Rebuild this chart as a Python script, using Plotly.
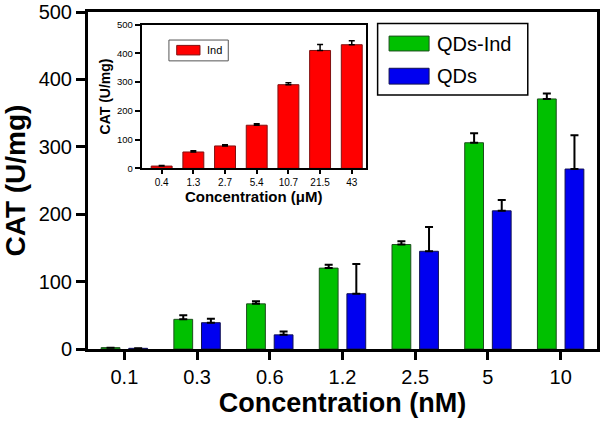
import plotly.graph_objects as go

# datos principales (nM)
conc_nm = ["0.1", "0.3", "0.6", "1.2", "2.5", "5", "10"]
qds_ind = [2, 44, 67, 120, 155, 306, 371]
qds_ind_err = [0, 6, 4, 5, 5, 14, 8]
qds = [1, 39, 21, 82, 145, 205, 267]
qds_err = [0, 6, 5, 44, 36, 16, 50]

# datos del recuadro (uM)
conc_um = ["0.4", "1.3", "2.7", "5.4", "10.7", "21.5", "43"]
ind = [8, 57, 78, 150, 291, 410, 430]
ind_err = [2, 4, 4, 5, 7, 21, 14]

FONT = "Arial, Liberation Sans, sans-serif"
GREEN = "#00c000"
BLUE = "#0000f0"
RED = "#ff0000"

fig = go.Figure()

fig.add_trace(go.Bar(
    x=conc_nm, y=qds_ind, name="QDs-Ind",
    marker=dict(color=GREEN, line=dict(color="#1d4d1d", width=1)),
    error_y=dict(type="data", array=qds_ind_err, arrayminus=[0] * len(qds_ind),
                 symmetric=False, color="black", thickness=2, width=4),
))
fig.add_trace(go.Bar(
    x=conc_nm, y=qds, name="QDs",
    marker=dict(color=BLUE, line=dict(color="#101050", width=1)),
    error_y=dict(type="data", array=qds_err, arrayminus=[0] * len(qds),
                 symmetric=False, color="black", thickness=2, width=4),
))
fig.add_trace(go.Bar(
    x=conc_um, y=ind, name="Ind", xaxis="x2", yaxis="y2", width=0.66,
    marker=dict(color=RED, line=dict(color="#801010", width=1)),
    error_y=dict(type="data", array=ind_err, arrayminus=[0] * len(ind),
                 symmetric=False, color="black", thickness=1.5, width=3),
))

fig.update_layout(
    width=600, height=424,
    margin=dict(l=88, r=3, t=12, b=75),
    plot_bgcolor="white", paper_bgcolor="white",
    font=dict(family=FONT, color="black"),
    showlegend=False,
    barmode="group", bargap=0.24, bargroupgap=0.32,
    xaxis=dict(
        type="category", range=[-0.5, 6.5], automargin=False,
        showline=True, linewidth=3, linecolor="black", mirror=True,
        ticks="outside", ticklen=8, tickwidth=3, tickcolor="black",
        tickfont=dict(size=20), showgrid=False,
        title=dict(text="<b>Concentration (nM)</b>", font=dict(size=27), standoff=5),
    ),
    yaxis=dict(
        range=[0, 500], dtick=100, automargin=False, ticklabeloverflow="allow",
        showline=True, linewidth=3, linecolor="black", mirror=True,
        ticks="outside", ticklen=9, tickwidth=3, tickcolor="black",
        tickfont=dict(size=20), showgrid=False, zeroline=False,
        title=dict(text="<b>CAT (U/mg)</b>", font=dict(size=28), standoff=16),
    ),
    xaxis2=dict(
        type="category", range=[-0.63, 6.44], domain=[0.1055, 0.5456],
        anchor="y2", automargin=False,
        showline=True, linewidth=2, linecolor="black", mirror=True,
        ticks="outside", ticklen=4, tickwidth=1.5, tickcolor="black",
        tickfont=dict(size=10), showgrid=False,
        title=dict(text="<b>Concentration (μM)</b>", font=dict(size=15), standoff=2),
    ),
    yaxis2=dict(
        range=[0, 500], dtick=100, domain=[0.536, 0.9626],
        anchor="x2", automargin=False,
        showline=True, linewidth=2, linecolor="black", mirror=True,
        ticks="outside", ticklen=5, tickwidth=1.5, tickcolor="black",
        tickfont=dict(size=9.5), showgrid=False, zeroline=False,
        title=dict(text="<b>CAT (U/mg)</b>", font=dict(size=14), standoff=3),
    ),
)

# leyenda principal dibujada a mano
shapes = [
    dict(type="rect", xref="paper", yref="paper", x0=0.569, x1=0.864, y0=0.754, y1=0.9656,
         line=dict(color="black", width=1.5), fillcolor="white"),
    dict(type="rect", xref="paper", yref="paper", x0=0.5915, x1=0.6701, y0=0.8844, y1=0.9285,
         line=dict(color="#1d4d1d", width=1), fillcolor=GREEN),
    dict(type="rect", xref="paper", yref="paper", x0=0.5915, x1=0.6701, y0=0.786, y1=0.833,
         line=dict(color="#101050", width=1), fillcolor=BLUE),
    # leyenda del recuadro
    dict(type="rect", xref="paper", yref="paper", x0=0.159, x1=0.2756, y0=0.855, y1=0.9168,
         line=dict(color="#555555", width=1), fillcolor="white"),
    dict(type="rect", xref="paper", yref="paper", x0=0.1743, x1=0.22, y0=0.8726, y1=0.9009,
         line=dict(color="#801010", width=1), fillcolor=RED),
]
annotations = [
    dict(text="QDs-Ind", xref="paper", yref="paper", x=0.682, y=0.906, xanchor="left",
         yanchor="middle", showarrow=False, font=dict(size=20)),
    dict(text="QDs", xref="paper", yref="paper", x=0.682, y=0.809, xanchor="left",
         yanchor="middle", showarrow=False, font=dict(size=20)),
    dict(text="Ind", xref="paper", yref="paper", x=0.229, y=0.887, xanchor="left",
         yanchor="middle", showarrow=False, font=dict(size=11)),
]
fig.update_layout(shapes=shapes, annotations=annotations)

# quitar el margen por defecto del <body> para que la figura empiece en (0, 0)
fig.write_html("out.html", config={"displayModeBar": False},
               post_script="document.body.style.margin='0';")
